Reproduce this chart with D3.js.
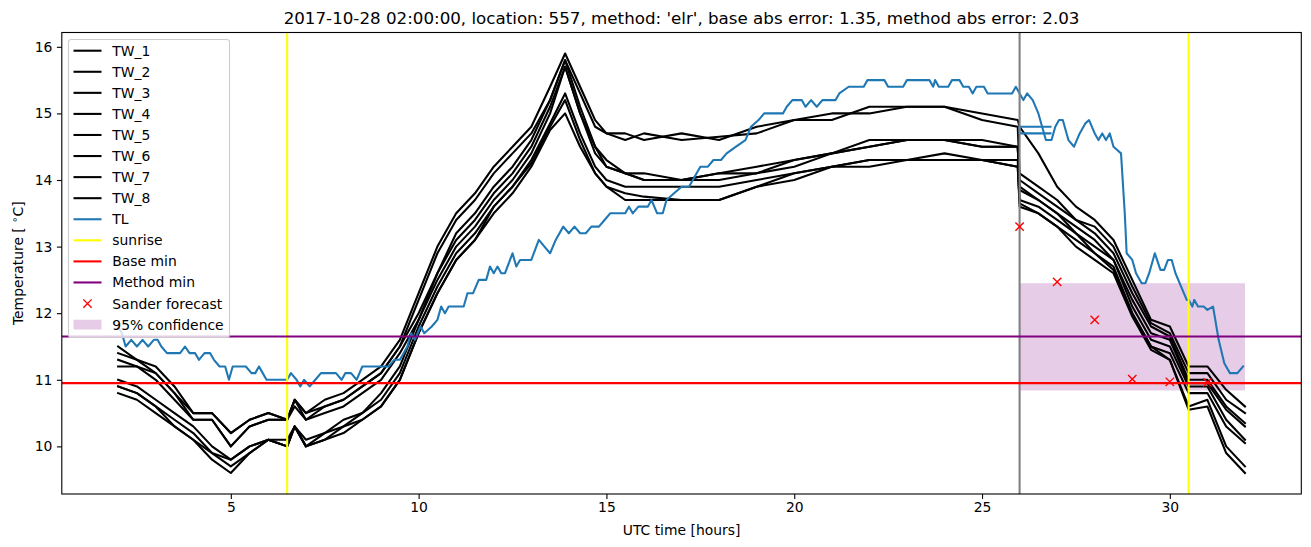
<!DOCTYPE html>
<html>
<head>
<meta charset="utf-8">
<script src="https://cdn.jsdelivr.net/npm/d3@7"></script>
<style>
  html, body { margin: 0; padding: 0; background: #fff; }
  svg { display: block; font-family: "DejaVu Sans", sans-serif; }
</style>
</head>
<body>
<svg id="chart" width="1311" height="547"></svg>
<script>
// ---------------- DATA ----------------
const titleText = "2017-10-28 02:00:00, location: 557, method: 'elr', base abs error: 1.35, method abs error: 2.03";
const xTicks = [5, 10, 15, 20, 25, 30];
const yTicks = [10, 11, 12, 13, 14, 15, 16];

// shared time knots (UTC hours) for the TW series
const twTime = [2, 2.5, 3, 3.5, 4, 4.5, 5, 5.5, 6, 6.5, 6.7, 7, 7.5, 8, 8.5, 9, 9.5, 10, 10.5, 11, 11.5, 12, 12.5, 13, 13.5, 13.9, 14.3, 14.7, 15, 15.5, 16, 17, 18, 19, 20, 21, 22, 23, 24, 25, 25.95, 26, 26.5, 27, 27.5, 28, 28.5, 29, 29.5, 30, 30.5, 31, 31.5, 32];

const TW_1 = [11.5, 11.3, 11.2, 10.9, 10.5, 10.5, 10.2, 10.4, 10.5, 10.4, 10.7, 10.5, 10.7, 10.8, 11.0, 11.2, 11.6, 12.3, 13.0, 13.5, 13.8, 14.2, 14.5, 14.8, 15.4, 15.9, 15.4, 14.9, 14.7, 14.7, 14.6, 14.7, 14.6, 14.8, 14.9, 14.9, 15.1, 15.1, 15.1, 15.0, 14.9, 14.8, 14.4, 13.9, 13.6, 13.4, 13.1, 12.5, 11.9, 11.8, 11.2, 11.2, 10.85, 10.6];
const TW_2 = [11.4, 11.3, 11.1, 10.8, 10.5, 10.5, 10.2, 10.4, 10.5, 10.4, 10.7, 10.5, 10.6, 10.7, 10.9, 11.1, 11.5, 12.2, 12.9, 13.4, 13.7, 14.1, 14.4, 14.7, 15.2, 15.8, 15.3, 14.8, 14.7, 14.6, 14.7, 14.6, 14.65, 14.7, 14.9, 15.0, 15.0, 15.1, 15.1, 14.9, 14.8, 14.1, 13.9, 13.7, 13.4, 13.3, 13.0, 12.4, 11.85, 11.7, 11.1, 11.1, 10.7, 10.5];
const TW_3 = [11.3, 11.2, 11.1, 10.8, 10.4, 10.4, 10.0, 10.3, 10.4, 10.4, 10.6, 10.4, 10.6, 10.7, 10.9, 11.1, 11.5, 12.0, 12.6, 13.1, 13.4, 13.8, 14.1, 14.5, 15.1, 15.7, 15.0, 14.5, 14.3, 14.1, 14.1, 14.0, 14.1, 14.2, 14.3, 14.4, 14.6, 14.6, 14.6, 14.6, 14.5, 14.0, 13.8, 13.6, 13.4, 13.2, 12.9, 12.3, 11.8, 11.65, 11.0, 11.0, 10.6, 10.35];
const TW_4 = [11.2, 11.2, 11.0, 10.7, 10.4, 10.4, 10.0, 10.3, 10.4, 10.4, 10.7, 10.4, 10.5, 10.6, 10.8, 11.0, 11.4, 11.9, 12.5, 13.0, 13.3, 13.7, 14.0, 14.4, 15.0, 15.7, 15.0, 14.4, 14.2, 14.1, 14.0, 14.0, 14.1, 14.1, 14.3, 14.4, 14.5, 14.6, 14.6, 14.5, 14.5, 13.9, 13.7, 13.5, 13.3, 13.1, 12.8, 12.2, 11.7, 11.6, 10.95, 10.95, 10.55, 10.3];
const TW_5 = [11.0, 10.9, 10.7, 10.5, 10.3, 10.0, 9.8, 10.0, 10.1, 10.0, 10.3, 10.0, 10.2, 10.4, 10.5, 10.8, 11.2, 11.9, 12.6, 13.2, 13.5, 13.9, 14.2, 14.6, 15.2, 15.8, 15.1, 14.5, 14.2, 14.1, 14.0, 14.0, 14.0, 14.1, 14.2, 14.4, 14.5, 14.6, 14.6, 14.5, 14.5, 13.85, 13.7, 13.5, 13.2, 13.0, 12.8, 12.1, 11.6, 11.5, 10.9, 10.9, 10.4, 10.1];
const TW_6 = [10.9, 10.8, 10.6, 10.4, 10.2, 9.9, 9.8, 10.0, 10.1, 10.0, 10.3, 10.1, 10.2, 10.3, 10.5, 10.7, 11.1, 11.8, 12.4, 12.9, 13.2, 13.6, 13.9, 14.3, 14.85, 15.3, 14.7, 14.2, 14.0, 13.9, 13.9, 13.9, 13.9, 14.0, 14.1, 14.2, 14.3, 14.3, 14.3, 14.3, 14.2, 13.7, 13.6, 13.4, 13.2, 12.9, 12.7, 12.0, 11.5, 11.4, 10.8, 10.8, 10.3, 10.05];
const TW_7 = [10.9, 10.8, 10.6, 10.3, 10.1, 9.9, 9.7, 9.9, 10.1, 10.1, 10.3, 10.0, 10.1, 10.3, 10.4, 10.6, 11.0, 11.7, 12.3, 12.8, 13.1, 13.6, 13.9, 14.25, 14.8, 15.2, 14.6, 14.1, 13.9, 13.8, 13.75, 13.7, 13.7, 13.9, 14.1, 14.2, 14.3, 14.3, 14.4, 14.3, 14.3, 13.65, 13.5, 13.3, 13.1, 12.9, 12.65, 12.0, 11.5, 11.3, 10.6, 10.7, 10.0, 9.7];
const TW_8 = [10.8, 10.7, 10.5, 10.3, 10.1, 9.8, 9.6, 9.9, 10.1, 10.0, 10.3, 10.0, 10.1, 10.2, 10.4, 10.6, 11.0, 11.7, 12.3, 12.8, 13.1, 13.5, 13.8, 14.2, 14.75, 15.0, 14.5, 14.1, 13.9, 13.7, 13.7, 13.7, 13.7, 13.9, 14.0, 14.2, 14.2, 14.3, 14.3, 14.3, 14.2, 13.6, 13.5, 13.3, 13.0, 12.8, 12.6, 11.95, 11.45, 11.3, 10.55, 10.6, 9.9, 9.6];

// TL series (own time axis)
const tlTime = [2.0, 2.1, 2.2, 2.35, 2.5, 2.65, 2.8, 2.95, 3.05, 3.15, 3.3, 3.65, 3.78, 3.9, 4.05, 4.15, 4.3, 4.45, 4.55, 4.7, 4.85, 4.95, 5.05, 5.2, 5.4, 5.55, 5.65, 5.75, 5.85, 5.95, 6.5, 6.6, 6.75, 6.85, 6.95, 7.1, 7.25, 7.4, 7.8, 7.95, 8.05, 8.2, 8.35, 8.5, 9.2, 9.35, 9.5, 9.6, 9.7, 9.8, 9.9, 10.05, 10.15, 10.35, 10.5, 10.6, 10.7, 10.8, 11.2, 11.3, 11.45, 11.6, 11.8, 11.9, 12.0, 12.1, 12.2, 12.3, 12.5, 12.6, 12.7, 12.85, 13.0, 13.2, 13.35, 13.5, 13.65, 13.85, 14.0, 14.15, 14.3, 14.45, 14.6, 14.8, 14.95, 15.1, 15.5, 15.6, 15.7, 15.85, 16.1, 16.2, 16.35, 16.5, 16.6, 16.8, 17.0, 17.2, 17.3, 17.5, 17.7, 17.85, 18.05, 18.2, 18.45, 18.7, 18.85, 19.05, 19.2, 19.7, 19.8, 19.95, 20.2, 20.3, 20.45, 20.6, 20.75, 21.1, 21.2, 21.45, 21.85, 21.95, 22.4, 22.5, 22.9, 23.0, 23.6, 23.7, 23.75, 23.85, 24.1, 24.2, 24.4, 24.5, 24.65, 24.75, 24.85, 25.05, 25.15, 25.8, 25.9, 26.0, 26.1, 26.2, 26.35, 26.5, 26.6, 26.7, 26.85, 26.95, 27.05, 27.15, 27.3, 27.45, 27.6, 27.75, 27.85, 28.0, 28.1, 28.2, 28.3, 28.4, 28.5, 28.6, 28.7, 28.8, 28.85, 29.0, 29.1, 29.25, 29.35, 29.45, 29.6, 29.75, 29.85, 29.95, 30.05, 30.15, 30.3, 30.45, 30.5, 30.6, 30.65, 30.75, 30.9, 31.0, 31.15, 31.3, 31.45, 31.6, 31.8, 31.95];
const tlVals = [11.8, 11.7, 11.5, 11.6, 11.5, 11.6, 11.5, 11.6, 11.6, 11.5, 11.4, 11.4, 11.5, 11.4, 11.4, 11.3, 11.4, 11.4, 11.3, 11.2, 11.2, 11.0, 11.2, 11.2, 11.2, 11.1, 11.1, 11.2, 11.1, 11.0, 11.0, 11.1, 11.0, 10.9, 11.0, 10.9, 11.0, 11.1, 11.1, 11.0, 11.1, 11.1, 11.0, 11.2, 11.2, 11.3, 11.3, 11.4, 11.5, 11.7, 11.6, 11.8, 11.7, 11.8, 11.9, 12.1, 12.0, 12.1, 12.1, 12.3, 12.3, 12.5, 12.5, 12.7, 12.6, 12.7, 12.6, 12.6, 12.9, 12.7, 12.8, 12.8, 12.8, 13.1, 13.0, 12.9, 13.1, 13.3, 13.2, 13.3, 13.2, 13.2, 13.3, 13.3, 13.4, 13.5, 13.5, 13.6, 13.5, 13.6, 13.6, 13.7, 13.5, 13.5, 13.7, 13.8, 13.9, 13.9, 14.0, 14.2, 14.2, 14.3, 14.3, 14.4, 14.5, 14.6, 14.8, 14.9, 15.0, 15.0, 15.1, 15.2, 15.2, 15.1, 15.2, 15.1, 15.2, 15.2, 15.3, 15.4, 15.4, 15.5, 15.5, 15.4, 15.4, 15.5, 15.5, 15.4, 15.5, 15.4, 15.4, 15.5, 15.5, 15.4, 15.4, 15.3, 15.4, 15.4, 15.3, 15.3, 15.4, 15.3, 15.2, 15.3, 15.2, 15.0, 14.8, 14.6, 14.6, 14.8, 14.9, 14.9, 14.6, 14.5, 14.7, 14.85, 14.9, 14.7, 14.6, 14.7, 14.6, 14.7, 14.5, 14.45, 14.4, 13.5, 12.9, 12.8, 12.6, 12.45, 12.45, 12.6, 12.9, 12.65, 12.65, 12.8, 12.8, 12.6, 12.4, 12.2, 12.2, 12.1, 12.2, 12.1, 12.1, 12.05, 12.1, 11.6, 11.25, 11.1, 11.1, 11.2];
// short second TL trace near the forecast start
const tlExtraTime = [26.85, 26.0, 26.0, 26.85];
const tlExtraVals = [14.8, 14.8, 14.7, 14.7];

const sunriseTimes = [6.5, 30.5];
const baseMin = 10.95;
const methodMin = 11.65;
const forecastStart = 26;
const sanderTime = [26, 27, 28, 29, 30, 31];
const sanderVals = [13.3, 12.47, 11.9, 11.01, 10.97, 10.96];
const confTime = [26, 32];
const confLow = 10.84;
const confHigh = 12.45;

const legendLabels = ["TW_1", "TW_2", "TW_3", "TW_4", "TW_5", "TW_6", "TW_7", "TW_8", "TL", "sunrise", "Base min", "Method min", "Sander forecast", "95% confidence"];

// ---------------- DRAW ----------------
const svg = d3.select("#chart");
const L = 61.8, R = 1301.3, T = 32.5, B = 494;
const x = d3.scaleLinear().domain([0.5, 33.5]).range([L, R]);
const y = d3.scaleLinear().domain([9.285, 16.215]).range([B, T]);

svg.append("defs").append("clipPath").attr("id", "plotclip")
  .append("rect").attr("x", L).attr("y", T).attr("width", R - L).attr("height", B - T);
const plot = svg.append("g").attr("clip-path", "url(#plotclip)");

// confidence fill
plot.append("rect")
  .attr("x", x(confTime[0])).attr("y", y(confHigh))
  .attr("width", x(confTime[1]) - x(confTime[0]))
  .attr("height", y(confLow) - y(confHigh))
  .attr("fill", "purple").attr("fill-opacity", 0.2);

const line = d3.line().x(d => x(d[0])).y(d => y(d[1]));
const twSeries = [TW_1, TW_2, TW_3, TW_4, TW_5, TW_6, TW_7, TW_8];
twSeries.forEach(s => {
  plot.append("path")
    .attr("d", line(twTime.map((t, i) => [t, s[i]])))
    .attr("fill", "none").attr("stroke", "#000").attr("stroke-width", 2.08)
    .attr("stroke-linejoin", "round").attr("stroke-linecap", "square");
});
plot.append("path")
  .attr("d", line(tlTime.map((t, i) => [t, tlVals[i]])))
  .attr("fill", "none").attr("stroke", "#1f77b4").attr("stroke-width", 2.08)
  .attr("stroke-linejoin", "round").attr("stroke-linecap", "square");
plot.append("path")
  .attr("d", line(tlExtraTime.map((t, i) => [t, tlExtraVals[i]])))
  .attr("fill", "none").attr("stroke", "#1f77b4").attr("stroke-width", 2.08);

// forecast start line (grey)
plot.append("line").attr("x1", x(forecastStart)).attr("x2", x(forecastStart))
  .attr("y1", T).attr("y2", B).attr("stroke", "gray").attr("stroke-width", 2.08);
// sunrise
sunriseTimes.forEach(s => {
  plot.append("line").attr("x1", x(s)).attr("x2", x(s)).attr("y1", T).attr("y2", B)
    .attr("stroke", "yellow").attr("stroke-width", 2.08);
});
// base min / method min
plot.append("line").attr("x1", L).attr("x2", R).attr("y1", y(baseMin)).attr("y2", y(baseMin))
  .attr("stroke", "red").attr("stroke-width", 2.08);
plot.append("line").attr("x1", L).attr("x2", R).attr("y1", y(methodMin)).attr("y2", y(methodMin))
  .attr("stroke", "purple").attr("stroke-width", 2.08);

// sander forecast markers
const mk = 4.17;
sanderTime.forEach((t, i) => {
  const cx = x(t), cy = y(sanderVals[i]);
  plot.append("path")
    .attr("d", `M${cx - mk},${cy - mk}L${cx + mk},${cy + mk}M${cx - mk},${cy + mk}L${cx + mk},${cy - mk}`)
    .attr("stroke", "red").attr("stroke-width", 1.39).attr("fill", "none");
});

// axes frame
svg.append("rect").attr("x", L).attr("y", T).attr("width", R - L).attr("height", B - T)
  .attr("fill", "none").attr("stroke", "#000").attr("stroke-width", 1.1);

// x axis
const xAxis = d3.axisBottom(x).tickValues(xTicks).tickSize(4.9).tickPadding(3.5).tickFormat(d3.format("d"));
const gx = svg.append("g").attr("transform", `translate(0,${B})`).call(xAxis);
gx.select(".domain").remove();
gx.selectAll("line").attr("stroke", "#000").attr("stroke-width", 1.1);
gx.selectAll("text").attr("font-size", 13.9).attr("fill", "#000").attr("font-family", "DejaVu Sans");

const yAxis = d3.axisLeft(y).tickValues(yTicks).tickSize(4.9).tickPadding(4.5).tickFormat(d3.format("d"));
const gy = svg.append("g").attr("transform", `translate(${L},0)`).call(yAxis);
gy.select(".domain").remove();
gy.selectAll("line").attr("stroke", "#000").attr("stroke-width", 1.1);
gy.selectAll("text").attr("font-size", 13.9).attr("fill", "#000").attr("font-family", "DejaVu Sans");

// title and labels
svg.append("text").attr("x", (L + R) / 2).attr("y", 24.3).attr("text-anchor", "middle")
  .attr("font-size", 16.7).attr("fill", "#000").text(titleText);
svg.append("text").attr("x", (L + R) / 2).attr("y", 535).attr("text-anchor", "middle")
  .attr("font-size", 13.9).attr("fill", "#000").text("UTC time [hours]");
const yl = svg.append("text").attr("transform", `translate(23,${(T + B) / 2}) rotate(-90)`)
  .attr("text-anchor", "middle").attr("font-size", 13.9).attr("fill", "#000");
yl.append("tspan").text("Temperature [ ");
yl.append("tspan").attr("font-size", 10).attr("baseline-shift", "super").text("∘");
yl.append("tspan").text("C]");

// legend
const lg = svg.append("g");
lg.append("rect").attr("x", 68.5).attr("y", 39.5).attr("width", 161).attr("height", 298)
  .attr("rx", 2.8).attr("fill", "#fff").attr("fill-opacity", 0.8)
  .attr("stroke", "#cccccc").attr("stroke-width", 1.1);
const legendStyle = [
  {type: "line", color: "#000"}, {type: "line", color: "#000"}, {type: "line", color: "#000"}, {type: "line", color: "#000"},
  {type: "line", color: "#000"}, {type: "line", color: "#000"}, {type: "line", color: "#000"}, {type: "line", color: "#000"},
  {type: "line", color: "#1f77b4"}, {type: "line", color: "yellow"}, {type: "line", color: "red"}, {type: "line", color: "purple"},
  {type: "marker", color: "red"}, {type: "patch", color: "purple"}
];
legendLabels.forEach((lab, i) => {
  const cy = 50.7 + i * 21.07;
  const st = legendStyle[i];
  if (st.type === "line") {
    lg.append("line").attr("x1", 73.5).attr("x2", 101.5).attr("y1", cy).attr("y2", cy)
      .attr("stroke", st.color).attr("stroke-width", 2.08);
  } else if (st.type === "marker") {
    const cx = 87.5;
    lg.append("path")
      .attr("d", `M${cx - mk},${cy - mk}L${cx + mk},${cy + mk}M${cx - mk},${cy + mk}L${cx + mk},${cy - mk}`)
      .attr("stroke", st.color).attr("stroke-width", 1.39);
  } else {
    lg.append("rect").attr("x", 73.5).attr("y", cy - 4.9).attr("width", 28).attr("height", 9.8)
      .attr("fill", st.color).attr("fill-opacity", 0.2);
  }
  lg.append("text").attr("x", 112.3).attr("y", cy).attr("dy", "0.36em")
    .attr("font-size", 13.9).attr("fill", "#000").text(lab);
});
</script>
</body>
</html>
